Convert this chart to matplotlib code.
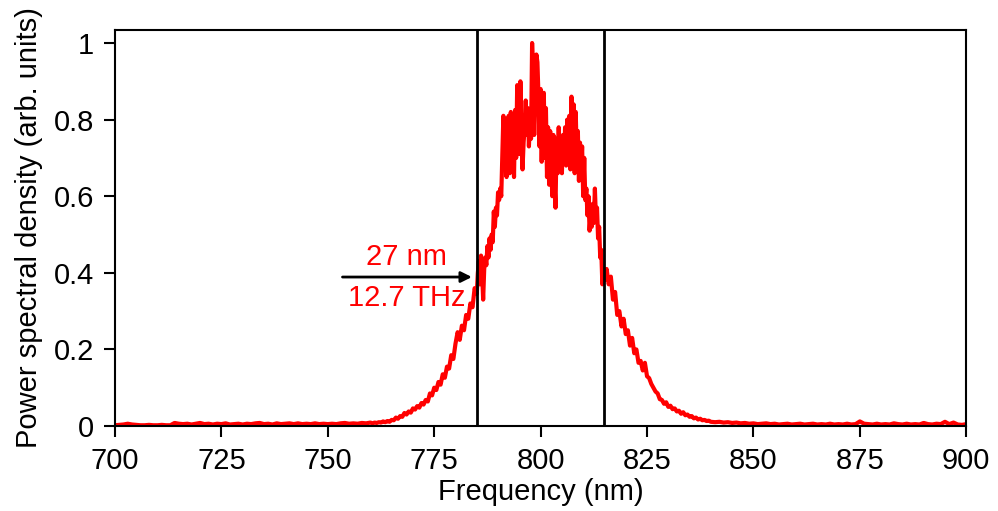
import numpy as np
import matplotlib.pyplot as plt

# wavelength (nm) and power spectral density
wl_base_left = list(range(700, 761))
psd_base_left = [0.002, 0.003, 0.004, 0.006, 0.004, 0.003, 0.002, 0.002, 0.003, 0.002,
                 0.002, 0.003, 0.002, 0.002, 0.008, 0.006, 0.005, 0.006, 0.004, 0.006,
                 0.008, 0.005, 0.006, 0.004, 0.006, 0.005, 0.007, 0.004, 0.005, 0.006,
                 0.004, 0.006, 0.005, 0.007, 0.008, 0.005, 0.006, 0.004, 0.007, 0.005,
                 0.006, 0.007, 0.005, 0.007, 0.005, 0.006, 0.005, 0.007, 0.005, 0.006,
                 0.005, 0.006, 0.005, 0.007, 0.008, 0.006, 0.007, 0.006, 0.008, 0.007,
                 0.009]

wl_rise = [760.5 + 0.5*i for i in range(50)]
psd_rise = [0.007, 0.009, 0.008, 0.010, 0.009, 0.012, 0.010, 0.013, 0.011, 0.016,
            0.015, 0.022, 0.019, 0.026, 0.024, 0.034, 0.030, 0.038, 0.035, 0.046,
            0.043, 0.052, 0.048, 0.060, 0.056, 0.068, 0.064, 0.085, 0.080, 0.100,
            0.094, 0.115, 0.108, 0.135, 0.126, 0.155, 0.150, 0.185, 0.175, 0.215,
            0.245, 0.225, 0.262, 0.250, 0.290, 0.280, 0.320, 0.310, 0.360, 0.345]

wl_core = [785.25 + 0.25*i for i in range(120)]
psd_core = [0.40, 0.43, 0.37, 0.445, 0.40, 0.33, 0.41, 0.44, 0.42, 0.47,
            0.44, 0.49, 0.46, 0.50, 0.48, 0.56, 0.52, 0.57, 0.55, 0.61,
            0.59, 0.62, 0.60, 0.70, 0.81, 0.70, 0.80, 0.65, 0.79, 0.81,
            0.66, 0.82, 0.72, 0.78, 0.65, 0.825, 0.70, 0.89, 0.74, 0.71,
            0.90, 0.76, 0.67, 0.74, 0.78, 0.85, 0.76, 0.83, 0.73, 0.80,
            0.75, 1.00, 0.92, 0.76, 0.86, 0.97, 0.95, 0.86, 0.73, 0.88,
            0.69, 0.84, 0.87, 0.70, 0.83, 0.65, 0.78, 0.63, 0.77, 0.67,
            0.60, 0.76, 0.64, 0.57, 0.75, 0.66, 0.78, 0.68, 0.74, 0.66,
            0.76, 0.69, 0.78, 0.68, 0.80, 0.71, 0.81, 0.67, 0.86, 0.75,
            0.84, 0.66, 0.82, 0.70, 0.77, 0.64, 0.74, 0.66, 0.73, 0.60,
            0.70, 0.59, 0.62, 0.55, 0.60, 0.51, 0.55, 0.52, 0.58, 0.53,
            0.62, 0.54, 0.57, 0.49, 0.52, 0.44, 0.46, 0.37, 0.41, 0.38]

wl_tail = [815.5 + 0.5*i for i in range(50)]
psd_tail = [0.41, 0.37, 0.39, 0.33, 0.35, 0.29, 0.30, 0.26, 0.28, 0.24,
            0.25, 0.21, 0.23, 0.19, 0.20, 0.165, 0.17, 0.145, 0.165, 0.13,
            0.125, 0.11, 0.10, 0.09, 0.085, 0.07, 0.068, 0.058, 0.062, 0.05,
            0.053, 0.044, 0.046, 0.038, 0.040, 0.032, 0.036, 0.028, 0.030, 0.024,
            0.026, 0.020, 0.022, 0.017, 0.019, 0.015, 0.016, 0.013, 0.014, 0.011]

wl_base_right = list(range(841, 901))
psd_base_right = [0.010, 0.011, 0.009, 0.010, 0.008, 0.009, 0.007, 0.008, 0.006, 0.007,
                  0.005, 0.006, 0.007, 0.005, 0.006, 0.004, 0.005, 0.006, 0.004, 0.005,
                  0.006, 0.004, 0.005, 0.006, 0.004, 0.005, 0.004, 0.006, 0.004, 0.005,
                  0.004, 0.006, 0.004, 0.005, 0.012, 0.006, 0.005, 0.004, 0.006, 0.004,
                  0.005, 0.004, 0.007, 0.005, 0.004, 0.006, 0.004, 0.005, 0.004, 0.008,
                  0.005, 0.004, 0.006, 0.005, 0.011, 0.005, 0.009, 0.004, 0.003, 0.005]

band_edges = [785, 815]
label_nm = '27 nm'
label_thz = '12.7 THz'

wl = np.array(wl_base_left + wl_rise + wl_core + wl_tail + wl_base_right)
psd = np.array(psd_base_left + psd_rise + psd_core + psd_tail + psd_base_right)

plt.rcParams['font.family'] = ['Liberation Sans', 'DejaVu Sans']
plt.rc('font', size=21)
plt.rc('axes', linewidth=1.5)

fig = plt.figure(figsize=(9.98, 5.11), dpi=100)
ax = fig.add_axes([0.1152, 0.1663, 0.853, 0.775])
ax.plot(wl, psd, color='#ff0000', lw=3)
for e in band_edges:
    ax.axvline(e, color='k', lw=2)

ax.annotate('', xy=(784.5, 0.389), xytext=(752.8, 0.389),
            arrowprops=dict(arrowstyle='-|>', color='k', lw=2, mutation_scale=16))
ax.text(768.5, 0.405, label_nm, color='#ff0000', ha='center', va='bottom')
ax.text(768.5, 0.372, label_thz, color='#ff0000', ha='center', va='top')

ax.set_xlim(700, 900)
ax.set_ylim(0, 1.034)
ax.set_xticks(np.arange(700, 901, 25))
ax.set_yticks([0, 0.2, 0.4, 0.6, 0.8, 1])
ax.set_yticklabels(['0', '0.2', '0.4', '0.6', '0.8', '1'])
ax.set_xlabel('Frequency (nm)', labelpad=2)
ax.set_ylabel('Power spectral density (arb. units)', labelpad=8)
ax.tick_params(direction='out', length=8, width=1.5, pad=7)

plt.savefig('out.png', dpi=100)
